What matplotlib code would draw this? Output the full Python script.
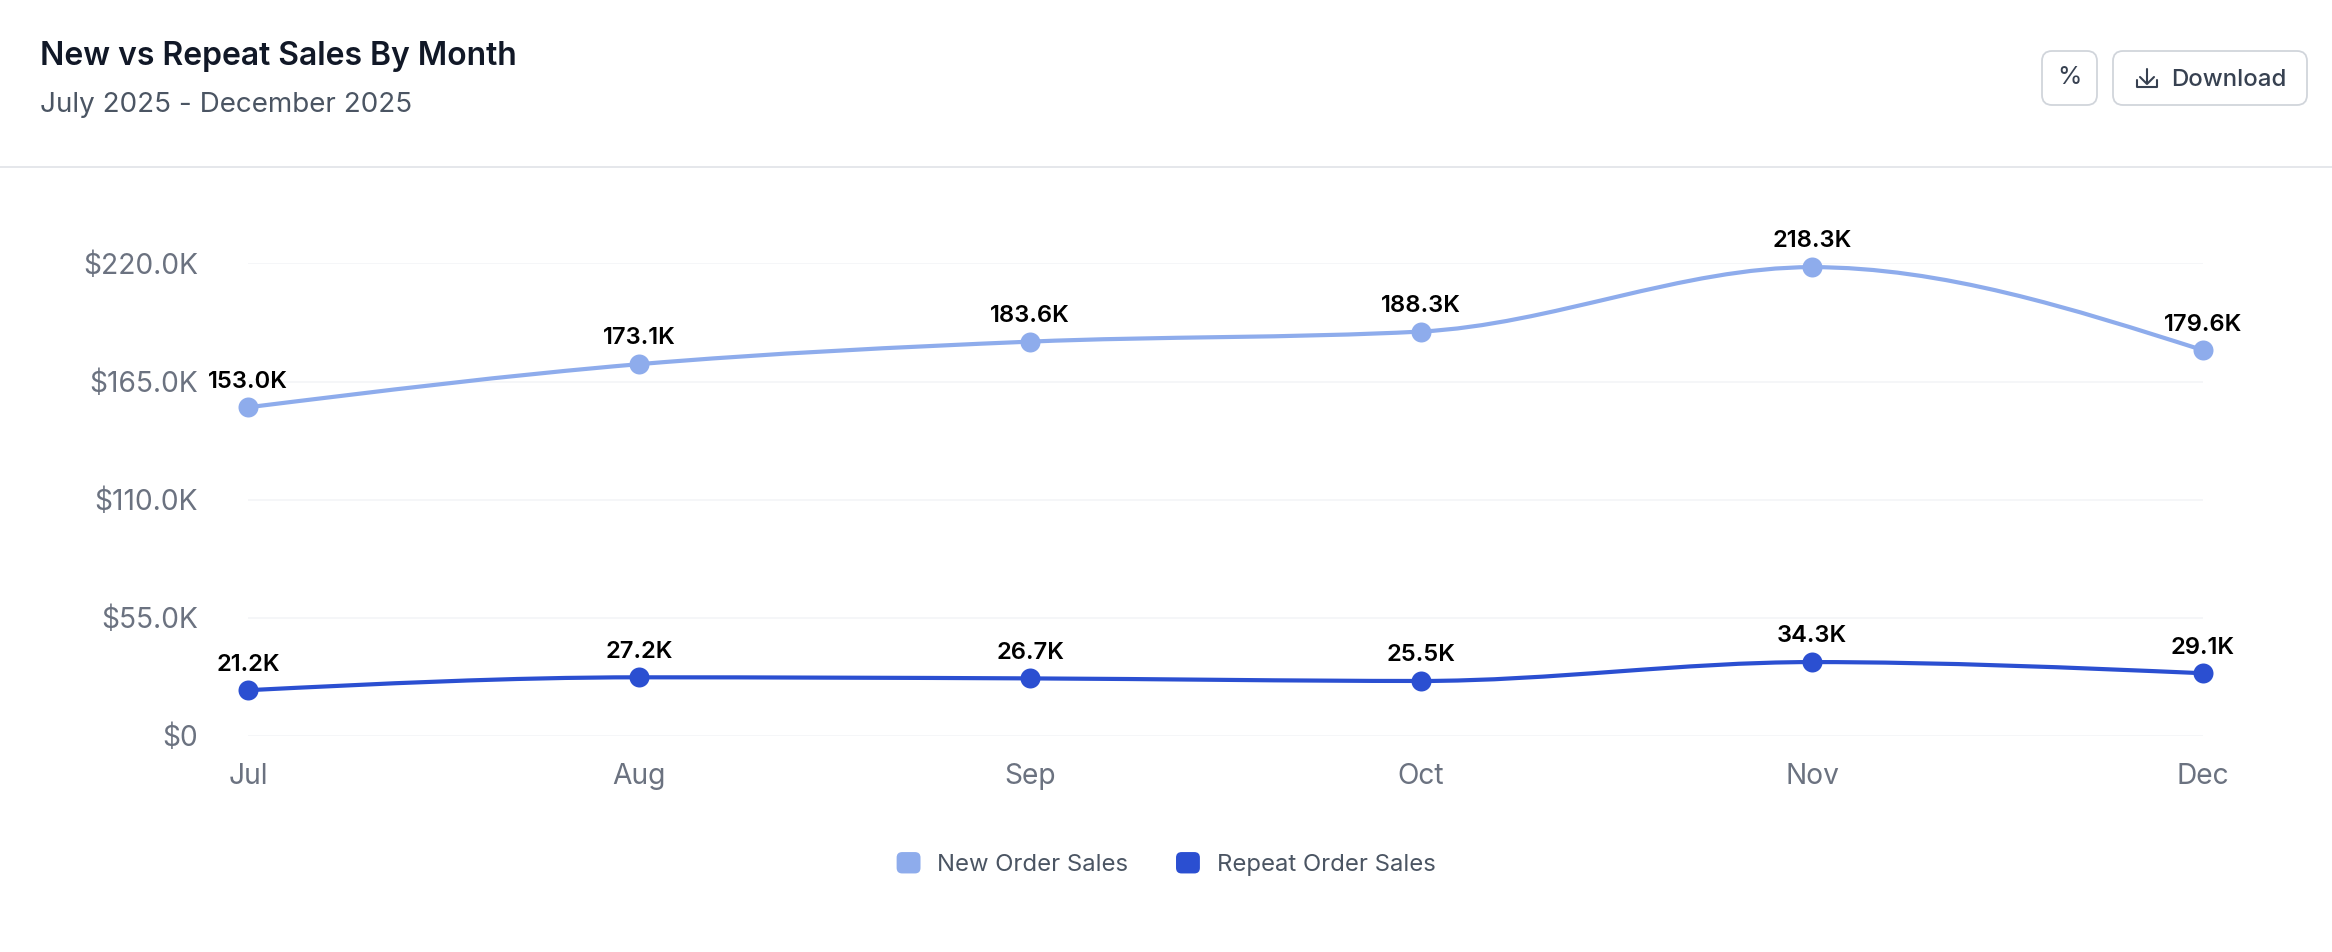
import numpy as np
import matplotlib
matplotlib.use("Agg")
import matplotlib.pyplot as plt
from matplotlib.legend_handler import HandlerPatch
from matplotlib.patches import FancyBboxPatch, Patch, PathPatch
from matplotlib.path import Path

plt.rcParams['font.family'] = ['Inter', 'DejaVu Sans']

months = ["Jul", "Aug", "Sep", "Oct", "Nov", "Dec"]
new_sales = [153.0, 173.1, 183.6, 188.3, 218.3, 179.6]
repeat_sales = [21.2, 27.2, 26.7, 25.5, 34.3, 29.1]
y_ticks = [0, 55, 110, 165, 220]
y_labels = ["$0", "$55.0K", "$110.0K", "$165.0K", "$220.0K"]

LIGHT = "#8eacec"
DARK = "#2b4fd1"
W, H = 2332, 952


def monotone_path(ys):
    # same curve a monotone-x spline gives, as bezier segments
    ys = np.asarray(ys, dtype=float)
    s = np.diff(ys)
    t = np.zeros(len(ys))
    for i in range(1, len(ys) - 1):
        p = (s[i - 1] + s[i]) / 2
        t[i] = (np.sign(s[i - 1]) + np.sign(s[i])) * min(abs(s[i - 1]), abs(s[i]), 0.5 * abs(p))
    t[0] = (3 * s[0] - t[1]) / 2
    t[-1] = (3 * s[-1] - t[-2]) / 2
    verts = [(0, ys[0])]
    codes = [Path.MOVETO]
    for i in range(len(ys) - 1):
        verts += [(i + 1 / 3, ys[i] + t[i] / 3), (i + 2 / 3, ys[i + 1] - t[i + 1] / 3), (i + 1, ys[i + 1])]
        codes += [Path.CURVE4] * 3
    return Path(verts, codes)


class RoundedHandle(HandlerPatch):
    def create_artists(self, legend, orig_handle, xdescent, ydescent, width, height, fontsize, trans):
        box = FancyBboxPatch((-xdescent + 2, -ydescent + 2), width - 4, height - 4,
                             boxstyle="round,pad=2,rounding_size=4", mutation_aspect=1,
                             fc=orig_handle.get_facecolor(), ec="none", transform=trans)
        return [box]


fig = plt.figure(figsize=(W / 100, H / 100), dpi=100, facecolor="white")

# header, in pixel coordinates
bg = fig.add_axes([0, 0, 1, 1], zorder=0)
bg.set_xlim(0, W)
bg.set_ylim(H, 0)
bg.axis("off")
bg.plot([0, W], [167, 167], color="#e5e7eb", lw=1.4)
bg.text(40, 65, "New vs Repeat Sales By Month", fontsize=23, fontweight=600, color="#111827", va="baseline")
bg.text(40, 112, "July 2025 - December 2025", fontsize=20, color="#4b5563", va="baseline")

for x0, x1 in [(2042, 2097), (2113, 2307)]:
    bg.add_patch(FancyBboxPatch((x0 + 8, 59), x1 - x0 - 16, 38, boxstyle="round,pad=8,rounding_size=10",
                                fc="white", ec="#d1d5db", lw=1.3))
bg.text(2069, 78, "%", fontsize=18, color="#374151", ha="center", va="center")
bg.text(2171, 86, "Download", fontsize=17.3, fontweight=500, color="#374151", va="baseline")
# download icon
bg.plot([2147, 2147], [69, 83], color="#374151", lw=1.5, solid_capstyle="round")
bg.plot([2140, 2147, 2154], [77, 84, 77], color="#374151", lw=1.5, solid_capstyle="round")
bg.plot([2137, 2137, 2157, 2157], [80, 87, 87, 80], color="#374151", lw=1.5, solid_capstyle="round")

ax = fig.add_axes([248 / W, 1 - 735.7 / H, (2203 - 248) / W, (735.7 - 263.5) / H], zorder=1)
ax.patch.set_alpha(0)
ax.set_xlim(0, 5)
ax.set_ylim(0, 220)
for side in ax.spines.values():
    side.set_visible(False)
ax.set_xticks(range(len(months)))
ax.set_xticklabels(months)
ax.set_yticks(y_ticks)
ax.set_yticklabels(y_labels)
ax.tick_params(axis="x", length=0, pad=20, labelsize=20.3, labelcolor="#6b7280")
ax.tick_params(axis="y", length=0, pad=36, labelsize=20.3, labelcolor="#6b7280")
ax.grid(axis="y", color="#f3f4f6", lw=1.1)
ax.set_axisbelow(True)

for vals, color in [(new_sales, LIGHT), (repeat_sales, DARK)]:
    ax.add_patch(PathPatch(monotone_path(vals), fc="none", ec=color, lw=3.0, clip_on=False, zorder=3))
    ax.plot(range(len(vals)), vals, ls="none", marker="o", ms=14.4, mfc=color, mec="none", clip_on=False, zorder=4)
    for i, v in enumerate(vals):
        ax.annotate(f"{v:.1f}K", (i, v), xytext=(0, 18.5), textcoords="offset points",
                    ha="center", va="center", fontsize=17.1, fontweight=600, color="black", zorder=5)

handles = [Patch(fc=LIGHT, label="New Order Sales"), Patch(fc=DARK, label="Repeat Order Sales")]
fig.legend(handles=handles, loc="center", bbox_to_anchor=(1166 / W, 1 - 864 / H), ncol=2, frameon=False,
           fontsize=17.2, labelcolor="#4b5563", handlelength=1.0, handleheight=1.0,
           handletextpad=0.7, columnspacing=2.0, handler_map={Patch: RoundedHandle()})

fig.savefig("out.png", dpi=100)
